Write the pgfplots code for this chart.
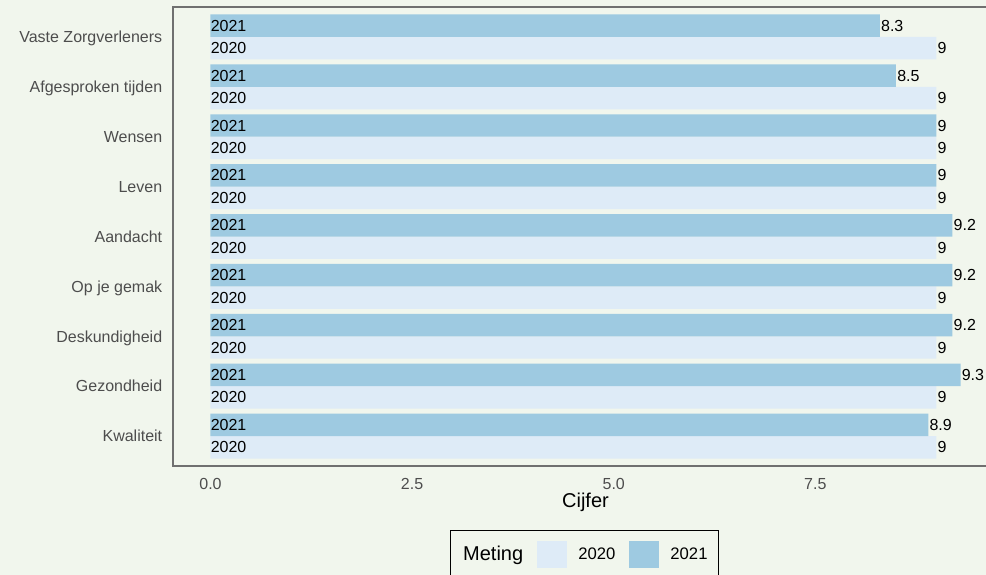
\documentclass[border=0pt]{standalone}
\usepackage{pgfplots}
\usepackage{pgfplotstable}
\pgfplotsset{compat=1.18}
\usepackage{fontspec}
\setmainfont{Liberation Sans}
\definecolor{bg}{HTML}{F1F6ED}
\definecolor{c20}{HTML}{DEEBF7}
\definecolor{c21}{HTML}{9ECAE1}
\definecolor{txtgrey}{HTML}{4D4D4D}
\definecolor{framec}{HTML}{707070}
% y positions: category index +0.225 (2021) / -0.225 (2020)
\pgfplotstableread{
y21 v21 y20 v20
1.225 8.9 0.775 9
2.225 9.3 1.775 9
3.225 9.2 2.775 9
4.225 9.2 3.775 9
5.225 9.2 4.775 9
6.225 9 5.775 9
7.225 9 6.775 9
8.225 8.5 7.775 9
9.225 8.3 8.775 9
}\datatab
\begin{document}
\begin{tikzpicture}[x=1pt,y=1pt]
\fill[bg] (-129.75,-81.75) rectangle (609.75,349.5);
\begin{axis}[
  at={(0,0)}, anchor=south west,
  scale only axis, width=618.75pt, height=344.25pt,
  xmin=-0.465, xmax=9.765, ymin=0.4, ymax=9.6,
  axis line style={draw=framec, line width=1.1pt},
  xtick={0,2.5,5,7.5}, xticklabels={0.0,2.5,5.0,7.5},
  ytick={1,2,3,4,5,6,7,8,9},
  yticklabels={Kwaliteit,Gezondheid,Deskundigheid,Op je gemak,Aandacht,Leven,Wensen,Afgesproken tijden,Vaste Zorgverleners},
  major tick length=0pt,
  tick label style={font=\fontsize{12}{14}\selectfont, text=txtgrey},
  xticklabel style={inner sep=0pt, anchor=north, yshift=-9pt},
  yticklabel style={inner sep=0pt, anchor=east, xshift=-7.9pt, text height=8.6pt, text depth=0pt},
  xlabel={Cijfer},
  xlabel style={at={(axis description cs:0.5,0)}, anchor=base, yshift=-31.3pt, font=\fontsize{15}{18}\selectfont, text=black},
  /pgf/number format/assume math mode=true,
  legend style={at={(axis description cs:0.4988,-0.1394)}, anchor=north,
    legend columns=3, draw=black, line width=1.1pt, fill=bg,
    inner xsep=8.25pt, inner ysep=8pt,
    font=\fontsize{12.5}{15}\selectfont, text=black,
    nodes={inner sep=0pt},
    /tikz/every odd column/.style={column sep=8.8pt},
    /tikz/every even column/.style={column sep=10pt}},
  legend image code/.code={\fill[#1, draw=none] (0pt,-10pt) rectangle (22.5pt,10pt);},
]
\addlegendimage{empty legend}
\addlegendentry{\hspace{-7.5pt}\fontsize{15}{18}\selectfont Meting}
\addlegendimage{fill=c20}
\addlegendentry{2020}
\addlegendimage{fill=c21}
\addlegendentry{2021}

\addplot[xbar, bar width=0.45, bar shift=0, fill=c20, draw=none, forget plot,
  point meta=x, nodes near coords, nodes near coords align={anchor=west},
  every node near coord/.append style={anchor=west, inner sep=0pt, xshift=0.75pt, font=\fontsize{12}{14}\selectfont, text=black}]
  table[x=v20, y=y20] {\datatab};
\addplot[xbar, bar width=0.45, bar shift=0, fill=c21, draw=none, forget plot,
  point meta=x, nodes near coords, nodes near coords align={anchor=west},
  every node near coord/.append style={anchor=west, inner sep=0pt, xshift=0.75pt, font=\fontsize{12}{14}\selectfont, text=black}]
  table[x=v21, y=y21] {\datatab};

\addplot[only marks, mark=none, forget plot,
  point meta=x, nodes near coords={2020}, nodes near coords align={anchor=west},
  every node near coord/.append style={anchor=west, inner sep=0pt, font=\fontsize{12}{14}\selectfont, text=black}]
  coordinates {(0,0.775) (0,1.775) (0,2.775) (0,3.775) (0,4.775) (0,5.775) (0,6.775) (0,7.775) (0,8.775)};
\addplot[only marks, mark=none, forget plot,
  point meta=x, nodes near coords={2021}, nodes near coords align={anchor=west},
  every node near coord/.append style={anchor=west, inner sep=0pt, font=\fontsize{12}{14}\selectfont, text=black}]
  coordinates {(0,1.225) (0,2.225) (0,3.225) (0,4.225) (0,5.225) (0,6.225) (0,7.225) (0,8.225) (0,9.225)};
\end{axis}
\pgfresetboundingbox
\path[use as bounding box] (-129.75,-81.75) rectangle (609.75,349.5);
\end{tikzpicture}
\end{document}
